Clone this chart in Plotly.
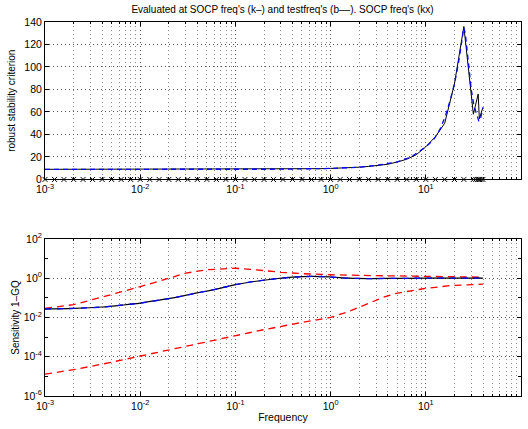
import plotly.graph_objects as go

# ---------------- data ----------------
socp_freq = [0.001, 0.00126, 0.00158, 0.002, 0.00251, 0.00316, 0.00398, 0.00501, 0.00631, 0.00794,
             0.01, 0.0126, 0.0158, 0.02, 0.0251, 0.0316, 0.0398, 0.0501, 0.0631, 0.0794,
             0.1, 0.126, 0.158, 0.2, 0.251, 0.316, 0.398, 0.501, 0.631, 0.794,
             1.0, 1.26, 1.58, 2.0, 2.51, 3.16, 3.98, 5.01, 6.31, 7.94,
             10.0, 12.6, 15.8, 20.0, 25.1, 31.6, 33.5, 35.5, 36.5, 38.0, 39.8]
socp_mu = [9.0, 9.0, 9.0, 9.0, 9.0, 9.0, 9.0, 9.0, 9.0, 9.0,
           9.0, 9.0, 9.0, 9.0, 9.0, 9.0, 9.0, 9.0, 9.0, 9.0,
           9.0, 9.0, 9.05, 9.05, 9.1, 9.1, 9.2, 9.3, 9.4, 9.6,
           9.8, 10.0, 10.4, 10.9, 11.6, 12.6, 13.5, 15.5, 18.0, 22.0,
           29.0, 38.0, 50.0, 85.0, 136.0, 58.0, 66.0, 76.0, 54.0, 59.0, 64.0]

test_freq = [0.001, 0.01, 0.1, 0.3, 1.0, 2.0, 3.0, 5.0, 7.0, 10.0, 12.0, 14.0, 16.0, 18.0,
             20.0, 22.0, 24.0, 25.0, 26.0, 28.0, 30.0, 32.0, 34.0, 36.0, 37.0, 38.5, 40.0]
test_mu = [9.0, 9.0, 9.0, 9.1, 9.8, 10.9, 12.4, 15.6, 20.0, 29.0, 35.0, 44.0, 56.0, 70.0,
           85.0, 103.0, 124.0, 135.0, 130.0, 105.0, 80.0, 66.0, 58.0, 52.0, 52.0, 57.0, 64.0]

sens_freq = [0.001, 0.002, 0.004, 0.0063, 0.01, 0.0158, 0.0251, 0.0398, 0.0631, 0.1, 0.158,
             0.251, 0.398, 0.631, 1.0, 1.58, 2.51, 5.0, 10.0, 40.0]
sens_val = [0.027, 0.029, 0.034, 0.042, 0.054, 0.076, 0.112, 0.178, 0.28, 0.47, 0.68,
            0.91, 1.12, 1.23, 1.15, 1.0, 0.96, 0.98, 1.0, 1.0]

upper_freq = [0.001, 0.002, 0.004, 0.007, 0.01, 0.015, 0.02, 0.03, 0.05, 0.08, 0.1, 0.15,
              0.2, 0.3, 0.5, 1.0, 3.0, 10.0, 40.0]
upper_val = [0.029, 0.045, 0.11, 0.22, 0.37, 0.65, 1.0, 1.8, 2.7, 3.2, 3.2, 2.8,
             2.4, 2.0, 1.7, 1.5, 1.35, 1.22, 1.13]

lower_freq = [0.001, 0.002, 0.004, 0.01, 0.02, 0.045, 0.1, 0.2, 0.5, 1.0, 1.5, 2.0, 2.6,
              3.6, 4.9, 7.0, 9.4, 18.0, 30.0, 40.0]
lower_val = [1.3e-5, 2.2e-5, 4.2e-5, 1.1e-4, 2.2e-4, 5.3e-4, 1.15e-3, 2.4e-3, 5.6e-3, 1.0e-2,
             1.9e-2, 3.3e-2, 5.8e-2, 0.107, 0.17, 0.23, 0.29, 0.42, 0.49, 0.5]

x_tickvals = [1e-3, 1e-2, 1e-1, 1e0, 1e1, 1e2]
x_ticktext = ["10<sup>-3</sup>", "10<sup>-2</sup>", "10<sup>-1</sup>", "10<sup>0</sup>",
              "10<sup>1</sup>", "10<sup>2</sup>"]
y1_tickvals = [0, 20, 40, 60, 80, 100, 120, 140]
y2_tickvals = [1e-6, 1e-4, 1e-2, 1e0, 1e2]
y2_ticktext = ["10<sup>-6</sup>", "10<sup>-4</sup>", "10<sup>-2</sup>", "10<sup>0</sup>",
               "10<sup>2</sup>"]

title_text = "Evaluated at SOCP freq's (k\u2013) and testfreq's (b\u2013\u2013). SOCP freq's (kx)"

# ---------------- figure ----------------
FONT = "Liberation Sans, Arial, Helvetica, sans-serif"
GRID_DASH = "1px,3px"
fig = go.Figure()

fig.add_trace(go.Scatter(x=socp_freq, y=socp_mu, mode="lines",
                         line=dict(color="black", width=1), xaxis="x", yaxis="y"))
fig.add_trace(go.Scatter(x=test_freq, y=test_mu, mode="lines",
                         line=dict(color="#0000ff", width=1.3, dash="5px,4px"), xaxis="x", yaxis="y"))
fig.add_trace(go.Scatter(x=socp_freq, y=[0] * len(socp_freq), mode="markers",
                         marker=dict(symbol="x-thin-open", size=5, color="black",
                                     line=dict(color="black", width=1)),
                         cliponaxis=False, xaxis="x", yaxis="y"))

fig.add_trace(go.Scatter(x=upper_freq, y=upper_val, mode="lines",
                         line=dict(color="#ff0000", width=1.3, dash="7px,5px"), xaxis="x2", yaxis="y2"))
fig.add_trace(go.Scatter(x=lower_freq, y=lower_val, mode="lines",
                         line=dict(color="#ff0000", width=1.3, dash="7px,5px"), xaxis="x2", yaxis="y2"))
fig.add_trace(go.Scatter(x=sens_freq, y=sens_val, mode="lines", line_shape="spline",
                         line=dict(color="black", width=1.2), xaxis="x2", yaxis="y2"))
fig.add_trace(go.Scatter(x=sens_freq, y=sens_val, mode="lines", line_shape="spline",
                         line=dict(color="#0000ff", width=1.3, dash="6px,6px"), xaxis="x2", yaxis="y2"))

minor_x = dict(ticks="inside", ticklen=2, tickcolor="black", dtick="D1",
               showgrid=True, gridcolor="#8a8a8a", griddash=GRID_DASH, gridwidth=1)

xcommon = dict(type="log", range=[-3, 2], tickvals=x_tickvals, ticktext=x_ticktext,
               ticks="inside", ticklen=4, tickcolor="black",
               showline=True, linecolor="black", linewidth=1, mirror="allticks",
               showgrid=True, gridcolor="#555555", griddash=GRID_DASH, gridwidth=1,
               zeroline=False, tickfont=dict(size=10.5, color="black", family=FONT),
               minor=minor_x)

fig.update_layout(
    width=528, height=429,
    margin=dict(l=45, r=7, t=22, b=33),
    paper_bgcolor="white", plot_bgcolor="white",
    showlegend=False,
    font=dict(family=FONT, size=10.5, color="black"),
    xaxis=dict(domain=[0, 1], anchor="y", **xcommon),
    xaxis2=dict(domain=[0, 1], anchor="y2",
                title=dict(text="Frequency", font=dict(size=10.5), standoff=3), **xcommon),
    yaxis=dict(domain=[0.579, 1], anchor="x", range=[0, 140], tickvals=y1_tickvals,
               ticks="inside", ticklen=4, tickcolor="black",
               showline=True, linecolor="black", linewidth=1, mirror="allticks",
               showgrid=True, gridcolor="#555555", griddash=GRID_DASH, gridwidth=1,
               zeroline=False, tickfont=dict(size=10.5, color="black"),
               title=dict(text="robust stability criterion", font=dict(size=10), standoff=6)),
    yaxis2=dict(domain=[0, 0.42], anchor="x2", type="log", range=[-6, 2],
                tickvals=y2_tickvals, ticktext=y2_ticktext,
                ticks="inside", ticklen=4, tickcolor="black",
                showline=True, linecolor="black", linewidth=1, mirror="allticks",
                showgrid=True, gridcolor="#555555", griddash=GRID_DASH, gridwidth=1,
                zeroline=False, tickfont=dict(size=10.5, color="black"),
                minor=dict(ticks="inside", ticklen=3, tickcolor="black", dtick=1, showgrid=False),
                title=dict(text="Sensitivity 1\u2013GQ", font=dict(size=10), standoff=2)),
    title=dict(text=title_text, x=0.535, xanchor="center", y=0.977, yanchor="middle",
               font=dict(size=10, color="black", family=FONT)),
)

fig.write_html("out.html", config={"displayModeBar": False},
               post_script="document.body.style.margin='0';document.body.style.padding='0';")
